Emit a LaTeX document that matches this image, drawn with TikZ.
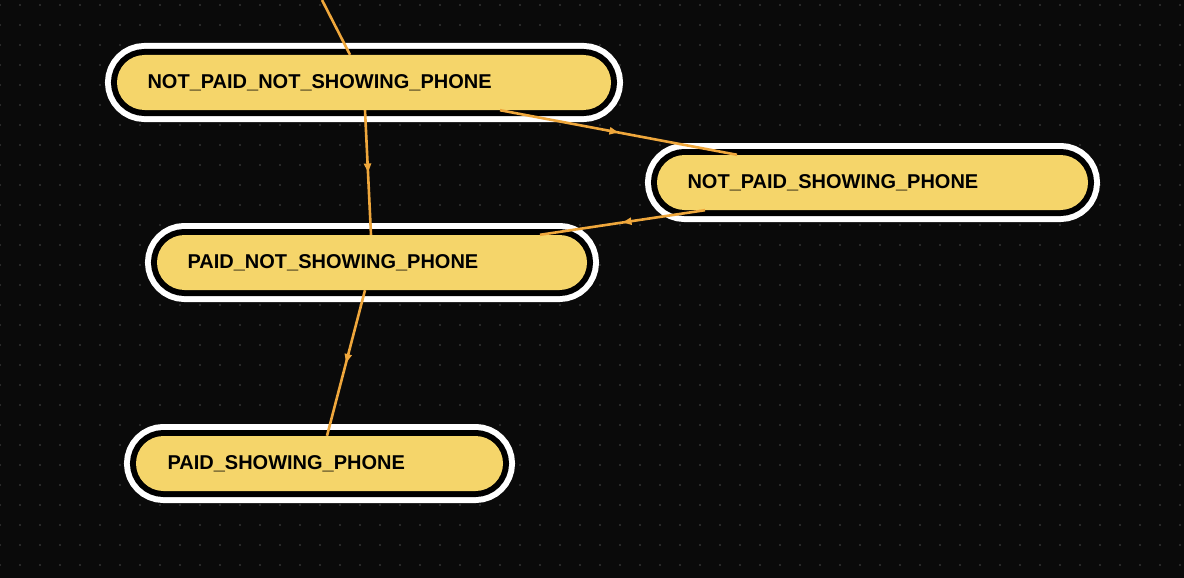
\documentclass[tikz,border=0pt]{standalone}
\usepackage{fontspec}
\setmainfont{Liberation Sans}
\usetikzlibrary{decorations.markings,arrows.meta}
\definecolor{bg}{HTML}{0A0A0A}
\definecolor{pill}{HTML}{F5D56A}
\definecolor{edge}{HTML}{EFA73C}
\definecolor{dot}{HTML}{4A4A4A}
\begin{document}
\begin{tikzpicture}[x=1pt,y=-1pt,
  state/.style={fill=pill, rounded corners=27.5pt, minimum height=55pt, inner sep=0pt,
    preaction={draw=white,line width=24pt,rounded corners=27.5pt},
    preaction={draw=black,line width=12pt,rounded corners=27.5pt}},
  lbl/.style={anchor=west, font=\bfseries\fontsize{20}{22}\selectfont, text=black},
  trans/.style={draw=edge, line width=2.6pt,
    postaction={decorate}, decoration={markings, mark=at position 0.5 with {\arrow{Triangle[length=9pt,width=7pt]}}}}]
\fill[bg] (0,0) rectangle (1184,578);
\useasboundingbox (0,0) rectangle (1184,578);
\foreach \i in {0,...,59}{\foreach \j in {0,...,28}{\fill[dot] (20*\i,5+20*\j) circle (0.8pt);}}
\node[state, minimum width=494pt] (n1) at (364,82.5) {};
\node[state, minimum width=431pt] (n2) at (872.5,182.5) {};
\node[state, minimum width=430pt] (n3) at (372,262.5) {};
\node[state, minimum width=367pt] (n4) at (319.5,463.5) {};
\node[lbl] (t1) at (144,82.5) {NOT\_PAID\_NOT\_SHOWING\_PHONE};
\node[lbl] (t2) at (684,182.5) {NOT\_PAID\_SHOWING\_PHONE};
\node[lbl] (t3) at (184,262.5) {PAID\_NOT\_SHOWING\_PHONE};
\node[lbl] (t4) at (164,463.5) {PAID\_SHOWING\_PHONE};
\coordinate (top) at (322,0);
\draw[draw=edge, line width=2.6pt] (top) -- ([xshift=-14pt]n1.north);
\draw[trans] ([xshift=1pt]n1.south) -- ([xshift=-1pt]n3.north);
\draw[trans] ([xshift=136pt]n1.south) -- ([xshift=-135.5pt]n2.north);
\draw[trans] ([xshift=-167.5pt]n2.south) -- ([xshift=168pt]n3.north);
\draw[trans] ([xshift=-7pt]n3.south) -- ([xshift=7.5pt]n4.north);
\end{tikzpicture}
\end{document}
